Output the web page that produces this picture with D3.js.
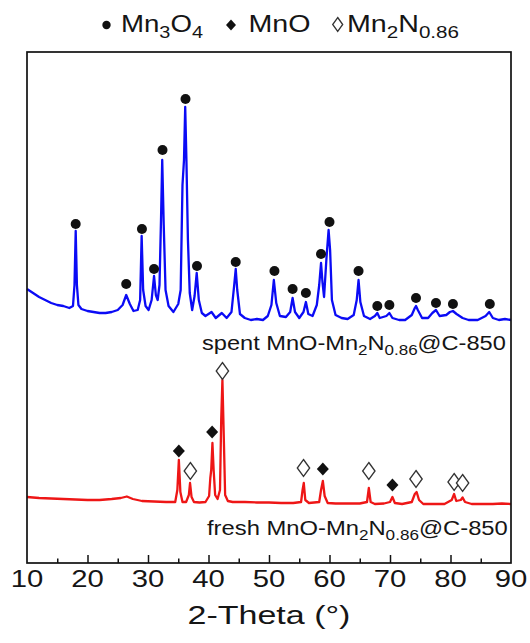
<!DOCTYPE html>
<html>
<head>
<meta charset="utf-8">
<script src="https://cdn.jsdelivr.net/npm/d3@7/dist/d3.min.js"></script>
<style>
    body { margin: 0; background: #fff; }
    svg text { font-family: 'Liberation Sans', Arial, sans-serif; fill: #151515; }
</style>
</head>
<body>
<svg id="chart" width="530" height="643"></svg>
<script>
'use strict';

/* * * * * * * * DATA (intensity in a.u.) * * * * * * * */
var spentTheta = [
    10.0, 11.0, 12.0, 13.0, 14.0, 15.0, 16.0, 17.0, 17.6, 17.85, 18.05, 18.25, 18.5,
    19.0, 20.0, 21.0, 22.0, 23.0, 24.0, 25.0, 25.8, 26.4, 27.0, 27.6, 28.3, 28.7,
    28.95, 29.2, 29.6, 30.1, 30.6, 31.0, 31.3, 31.6, 31.9, 32.15, 32.35, 32.6, 32.9,
    33.4, 34.2, 35.0, 35.4, 35.7, 35.95, 36.15, 36.35, 36.6, 36.9, 37.3, 37.7, 38.05,
    38.4, 38.9, 39.5, 40.5, 41.2, 42.2, 43.0, 43.8, 44.25, 44.5, 44.75, 45.2, 46.0,
    47.0, 48.0, 49.0, 49.8, 50.4, 50.8, 51.2, 51.8, 52.8, 53.5, 53.9, 54.3, 55.0,
    55.7, 56.1, 56.5, 57.2, 57.9, 58.3, 58.6, 58.85, 59.1, 59.5, 59.85, 60.1, 60.4,
    61.0, 62.0, 63.0, 64.0, 64.5, 64.8, 65.1, 65.7, 66.7, 67.5, 67.9, 68.3, 69.4,
    69.9, 70.4, 71.5, 72.5, 73.6, 74.1, 74.3, 74.6, 75.3, 76.3, 77.0, 77.6, 78.2,
    79.3, 79.9, 80.4, 81.0, 82.0, 83.0, 84.5, 85.8, 86.4, 87.0, 88.0, 89.0, 90.0
];
var spentIntensity = [
    274, 270, 266, 263, 260, 258, 257, 255, 257, 278, 332, 278, 258,
    254, 252, 251, 250, 250, 251, 253, 258, 268, 259, 252, 253, 263,
    327, 273, 257, 253, 263, 287, 268, 263, 278, 343, 403, 338, 273,
    257, 251, 259, 273, 378, 403, 456, 403, 323, 270, 253, 267, 290,
    263, 250, 247, 251, 245, 250, 245, 251, 278, 294, 273, 249, 245,
    243, 244, 243, 247, 258, 283, 260, 247, 246, 251, 265, 251, 245,
    251, 261, 249, 247, 258, 278, 300, 280, 266, 305, 333, 313, 263,
    248, 245, 244, 248, 263, 283, 261, 247, 244, 247, 250, 245, 247,
    250, 245, 243, 243, 248, 255, 257, 253, 245, 245, 250, 253, 247,
    248, 251, 252, 249, 245, 243, 243, 247, 251, 245, 243, 244, 243
];

var freshTheta = [
    10.0, 12.0, 14.0, 16.0, 18.0, 20.0, 22.0, 24.0, 25.5, 26.5, 27.5, 29.0, 31.0,
    33.0, 34.5, 34.85, 35.1, 35.35, 35.7, 36.3, 36.75, 36.95, 37.2, 37.6, 38.5, 39.5,
    40.1, 40.3, 40.45, 40.65, 40.85, 41.1, 41.5, 41.9, 42.1, 42.3, 42.5, 42.75, 43.2,
    44.0, 46.0, 48.0, 50.0, 52.0, 54.0, 55.3, 55.55, 55.75, 56.0, 56.6, 58.3, 58.6,
    58.9, 59.2, 59.7, 61.0, 63.0, 65.0, 66.2, 66.5, 66.8, 67.5, 69.0, 70.0, 70.4,
    70.8, 72.0, 73.6, 74.1, 74.4, 74.8, 75.5, 77.0, 79.0, 80.2, 80.6, 80.95, 81.7,
    82.0, 82.4, 83.5, 85.0, 87.0, 88.5, 90.0
];
var freshIntensity = [
    66, 65, 64.5, 64, 63.5, 63, 63, 64, 65, 66.5, 64, 62, 61.5,
    61, 61, 73, 103, 71, 61, 61, 68, 80, 66, 61, 60.5, 61,
    67, 85, 93, 120, 93, 68, 64, 73, 143, 183, 133, 68, 62,
    61, 61, 60.5, 60.5, 60, 60, 61, 73, 80, 63, 60, 61, 73,
    82, 67, 60, 59.5, 59.5, 59.5, 61, 75, 61, 59, 59.5, 61, 66,
    60, 59, 61, 69, 71, 63, 59, 59, 59, 63, 69, 62, 63,
    65.5, 61, 59, 59, 59, 59.5, 59
];

// reflection markers: 2-Theta and the level the symbol sits at
var mn3o4Theta = [18.05, 26.4, 29.0, 31.0, 32.4, 36.2, 38.1, 44.5, 50.9, 53.9,
    56.1, 58.6, 60.0, 64.8, 67.9, 69.9, 74.3, 77.6, 80.4, 86.5];
var mn3o4Level = [339, 279, 334, 294, 413, 464, 297, 301, 292, 274,
    270, 309, 341, 292, 257, 258, 265, 260, 259, 259];
var mnoTheta = [35.1, 40.6, 58.9, 70.4];
var mnoLevel = [112, 131, 94, 78];
var mn2nTheta = [37.0, 42.3, 55.7, 66.5, 74.3, 80.6, 82.0];
var mn2nLevel = [92, 192, 95, 92, 84, 81, 80];

var xMajorTicks = [10, 20, 30, 40, 50, 60, 70, 80, 90];
var xMinorTicks = [15, 25, 35, 45, 55, 65, 75, 85];

// text as [segment, isSubscript]
var legendLabels = [
    [['Mn', false], ['3', true], ['O', false], ['4', true]],
    [['MnO', false]],
    [['Mn', false], ['2', true], ['N', false], ['0.86', true]]
];
var spentLabel = [['spent MnO-Mn', false], ['2', true], ['N', false], ['0.86', true], ['@C-850', false]];
var freshLabel = [['fresh MnO-Mn', false], ['2', true], ['N', false], ['0.86', true], ['@C-850', false]];
var xTitle = '2-Theta (\u00b0)';

/* * * * * * * * LAYOUT * * * * * * * */
var plot = {left: 27, right: 511, top: 52, bottom: 563},
    svg = d3.select('#chart'),
    ink = '#111';

var x = d3.scaleLinear().domain([10, 90]).range([plot.left, plot.right]),
    y = d3.scaleLinear().domain([0, 511]).range([plot.bottom, plot.top]);

// the figure text is drawn wider than the font, so every label is
// stretched horizontally to the width it has in the picture
var richText = function(parent, parts, fontSize, shift) {
    var text = parent.append('text').attr('font-size', fontSize),
        down = false;

    parts.forEach(function(part) {
        var span = text.append('tspan').text(part[0]);
        if (part[1]) {
            span.attr('font-size', fontSize * 0.72);
            if (!down) {
                span.attr('dy', shift);
                down = true;
            }
        } else if (down) {
            span.attr('dy', -shift);
            down = false;
        }
    });
    return text;
};

var fittedText = function(parts, opts) {
    var g = svg.append('g'),
        text = richText(g, parts, opts.size, opts.shift || 0),
        scale = opts.width / text.node().getComputedTextLength(),
        left = opts.anchor === 'middle' ? opts.x - opts.width / 2 : opts.x;

    g.attr('transform', `translate(${left},${opts.y}) scale(${scale},1)`);
    return g;
};

var diamond = function(hw, hh) {
    return `M0,${-hh}L${hw},0L0,${hh}L${-hw},0Z`;
};

/* * * * * * * * PATTERNS * * * * * * * */
var line = d3.line()
    .x(function(d) { return x(d[0]); })
    .y(function(d) { return y(d[1]); });

var drawPattern = function(thetas, values, color) {
    svg.append('path')
        .datum(d3.zip(thetas, values))
        .attr('d', line)
        .attr('fill', 'none')
        .attr('stroke', color)
        .attr('stroke-width', 2.3)
        .attr('stroke-linejoin', 'round');
};

drawPattern(spentTheta, spentIntensity, '#0b0bf5');
drawPattern(freshTheta, freshIntensity, '#ee1616');

/* * * * * * * * MARKERS * * * * * * * */
svg.append('g').selectAll('circle')
    .data(d3.zip(mn3o4Theta, mn3o4Level))
    .join('circle')
    .attr('cx', function(d) { return x(d[0]); })
    .attr('cy', function(d) { return y(d[1]); })
    .attr('r', 5)
    .attr('fill', ink);

svg.append('g').selectAll('path')
    .data(d3.zip(mnoTheta, mnoLevel))
    .join('path')
    .attr('d', diamond(6, 6.5))
    .attr('transform', function(d) { return `translate(${x(d[0])},${y(d[1])})`; })
    .attr('fill', ink);

svg.append('g').selectAll('path')
    .data(d3.zip(mn2nTheta, mn2nLevel))
    .join('path')
    .attr('d', diamond(6.2, 8.5))
    .attr('transform', function(d) { return `translate(${x(d[0])},${y(d[1])})`; })
    .attr('fill', '#fff')
    .attr('stroke', '#333')
    .attr('stroke-width', 1.3);

/* * * * * * * * FRAME + AXIS * * * * * * * */
svg.append('rect')
    .attr('x', plot.left)
    .attr('y', plot.top)
    .attr('width', plot.right - plot.left)
    .attr('height', plot.bottom - plot.top)
    .attr('fill', 'none')
    .attr('stroke', ink)
    .attr('stroke-width', 1.7);

var addTicks = function(values, size) {
    var g = svg.append('g')
        .attr('transform', `translate(0,${plot.bottom})`)
        .call(d3.axisBottom(x).tickValues(values).tickSize(-size).tickFormat(''));
    g.select('.domain').remove();
    g.selectAll('line').attr('stroke', ink).attr('stroke-width', 1.5);
};
addTicks(xMajorTicks.slice(1, -1), 8);
addTicks(xMinorTicks, 4.5);

xMajorTicks.forEach(function(t) {
    svg.append('g')
        .attr('transform', `translate(${x(t)},587) scale(1.22,1)`)
        .append('text')
        .attr('text-anchor', 'middle')
        .attr('font-size', 24)
        .text(t);
});

fittedText([[xTitle, false]], {x: (plot.left + plot.right) / 2, y: 624, size: 26, width: 163, anchor: 'middle'});

/* * * * * * * * SAMPLE LABELS * * * * * * * */
fittedText(spentLabel, {x: 202, y: 350, size: 21, width: 304, shift: 5});
fittedText(freshLabel, {x: 207, y: 534.5, size: 21, width: 301, shift: 5});

/* * * * * * * * LEGEND * * * * * * * */
svg.append('circle')
    .attr('cx', 106.5).attr('cy', 25).attr('r', 4.2)
    .attr('fill', ink);
svg.append('path')
    .attr('d', diamond(5, 5.5))
    .attr('transform', 'translate(231,25)')
    .attr('fill', ink);
svg.append('path')
    .attr('d', diamond(5, 7))
    .attr('transform', 'translate(337.7,24.5)')
    .attr('fill', 'none')
    .attr('stroke', '#333')
    .attr('stroke-width', 1.3);

fittedText(legendLabels[0], {x: 121, y: 32, size: 23, width: 82, shift: 6});
fittedText(legendLabels[1], {x: 248.5, y: 32, size: 23, width: 62});
fittedText(legendLabels[2], {x: 347, y: 32, size: 23, width: 112, shift: 6});
</script>
</body>
</html>
